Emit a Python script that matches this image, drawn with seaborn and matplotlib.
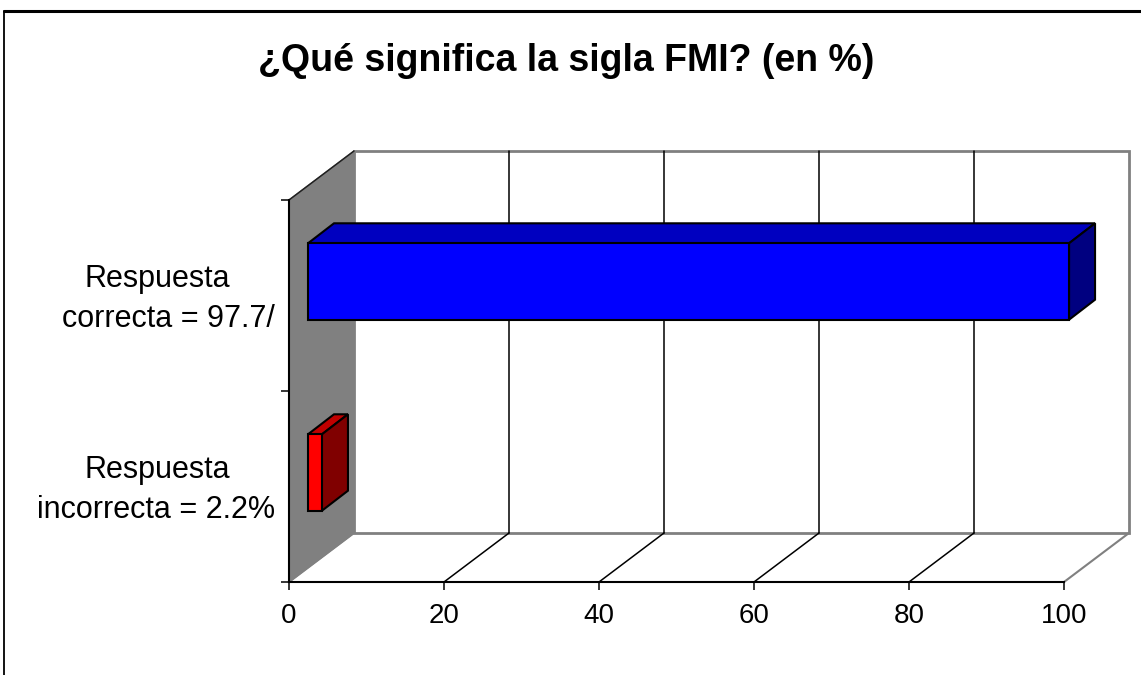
import matplotlib
matplotlib.use("Agg")
import matplotlib.pyplot as plt
import pandas as pd
import seaborn as sns
from matplotlib.lines import Line2D
from matplotlib.patches import Polygon, Rectangle
from matplotlib.transforms import Affine2D, blended_transform_factory

# ---- data ----
categories = ["correcta", "incorrecta"]
values = [98.2, 1.8]
label_first = ["Respuesta", "Respuesta"]
label_second = ["correcta = 97.7/", "incorrecta = 2.2%"]
x_ticks = [0, 20, 40, 60, 80, 100]
title = "¿Qué significa la sigla FMI? (en %)"

# ---- style ----
front_colors = ["#0000FF", "#FF0000"]
top_colors = ["#0000C0", "#C00000"]
side_colors = ["#000080", "#800000"]
GREY = "#808080"

W, H = 1141, 675
sns.set_theme(style="white")
plt.rcParams["font.family"] = ["Liberation Sans", "DejaVu Sans"]

fig = plt.figure(figsize=(W / 100, H / 100), dpi=100, facecolor="white")
ax = fig.add_axes([289 / W, (H - 582) / H, (1064 - 289) / W, (582 - 200) / H])
ax.set_facecolor("none")

df = pd.DataFrame({"cat": categories, "val": values})
sns.barplot(data=df, y="cat", x="val", order=categories, hue="cat",
            palette=front_colors, legend=False, width=0.4, orient="h",
            edgecolor="black", linewidth=1.5, saturation=1, ax=ax, zorder=5)
ax.set_xlim(0, 100)
ax.set_ylim(1.5, -0.5)
ax.set_xlabel("")
ax.set_ylabel("")


def shift(dx, dy):
    return ax.transData + Affine2D().translate(dx, dy)


# depth of the chart box and of the bars, in pixels
DX, DY = 65, 49
BX0, BY0 = 19, 14
BDX, BDY = 26, 20

back = shift(DX, DY)
front = ax.transData
y_bottom, y_top = ax.get_ylim()

# the seaborn rectangles are the front faces of the bars
bars = [p for p in ax.patches if isinstance(p, Rectangle)]

# grey side wall, built from front and back corners
corners = [front.transform((0, y_bottom)), front.transform((0, y_top)),
           back.transform((0, y_top)), back.transform((0, y_bottom))]
ax.add_patch(Polygon(corners, closed=True, transform=None, facecolor=GREY,
                     edgecolor=GREY, linewidth=1, zorder=1, clip_on=False))

# back wall
ax.add_patch(Rectangle((0, y_top), 100, y_bottom - y_top, transform=back,
                       facecolor="white", edgecolor=GREY, linewidth=2,
                       zorder=1, clip_on=False))

# gridlines on the back wall and floor lines
for t in x_ticks:
    colour = GREY if t in (0, 100) else "black"
    lw = 1.5 if t in (0, 100) else 1.1
    if 0 < t < 100:
        ax.add_line(Line2D([t, t], [y_bottom, y_top], transform=back,
                           color=colour, linewidth=lw, zorder=2, clip_on=False))
    p0 = front.transform((t, y_bottom))
    p1 = back.transform((t, y_bottom))
    ax.add_line(Line2D([p0[0], p1[0]], [p0[1], p1[1]], transform=None,
                       color=colour, linewidth=lw, zorder=2, clip_on=False))
# upper slanted edge of the wall
p0 = front.transform((0, y_top))
p1 = back.transform((0, y_top))
ax.add_line(Line2D([p0[0], p1[0]], [p0[1], p1[1]], transform=None,
                   color="#202020", linewidth=1.1, zorder=3, clip_on=False))

# add the 3-D faces of the bars
near = shift(BX0, BY0)
for i, bar in enumerate(bars):
    bar.set_transform(near)
    bar.set_clip_on(False)
    x0, x1 = bar.get_x(), bar.get_x() + bar.get_width()
    ya, yb = bar.get_y(), bar.get_y() + bar.get_height()
    top_edge, low_edge = min(ya, yb), max(ya, yb)
    a = near.transform((x0, top_edge))
    b = near.transform((x1, top_edge))
    c = near.transform((x1, low_edge))
    off = (BDX, BDY)
    ax.add_patch(Polygon([a, b, (b[0] + off[0], b[1] + off[1]), (a[0] + off[0], a[1] + off[1])],
                         closed=True, transform=None, facecolor=top_colors[i],
                         edgecolor="black", linewidth=1.5, zorder=4, clip_on=False))
    ax.add_patch(Polygon([b, c, (c[0] + off[0], c[1] + off[1]), (b[0] + off[0], b[1] + off[1])],
                         closed=True, transform=None, facecolor=side_colors[i],
                         edgecolor="black", linewidth=1.5, zorder=4, clip_on=False))

# axes and ticks
sns.despine(ax=ax, top=True, right=True)
for s in ("left", "bottom"):
    ax.spines[s].set_color("black")
    ax.spines[s].set_linewidth(1.5)
    ax.spines[s].set_zorder(6)
ax.set_xticks(x_ticks)
ax.set_yticks([-0.5, 0.5, 1.5])
ax.set_yticklabels([])
ax.tick_params(axis="both", length=6, width=1.1, color="black", left=True, bottom=True)
ax.tick_params(axis="x", labelsize=20, pad=9, labelcolor="black")

# category labels, one text per line
label_tf = blended_transform_factory(fig.transFigure, ax.transData)
for i in range(len(categories)):
    ax.annotate(label_first[i], xy=(157 / W, i), xycoords=label_tf,
                xytext=(0, 6.2), textcoords="offset points",
                ha="center", va="baseline", fontsize=22, color="black")
    ax.annotate(label_second[i], xy=(275 / W, i), xycoords=label_tf,
                xytext=(0, -22.4), textcoords="offset points",
                ha="right", va="baseline", fontsize=22, color="black")

fig.text(566 / W, 1 - 61 / H, title, ha="center", va="center",
         fontsize=27, fontweight="bold", color="black")

# outer chart frame (runs off the right and bottom of the picture)
fig.add_artist(Line2D([1, 3.5 / W], [1 - 10.5 / H, 1 - 10.5 / H],
                      transform=fig.transFigure, color="black", linewidth=2.2))
fig.add_artist(Line2D([3.5 / W, 3.5 / W], [1 - 10.5 / H, 0],
                      transform=fig.transFigure, color="black", linewidth=1.3))

fig.savefig("out.png", dpi=100)
